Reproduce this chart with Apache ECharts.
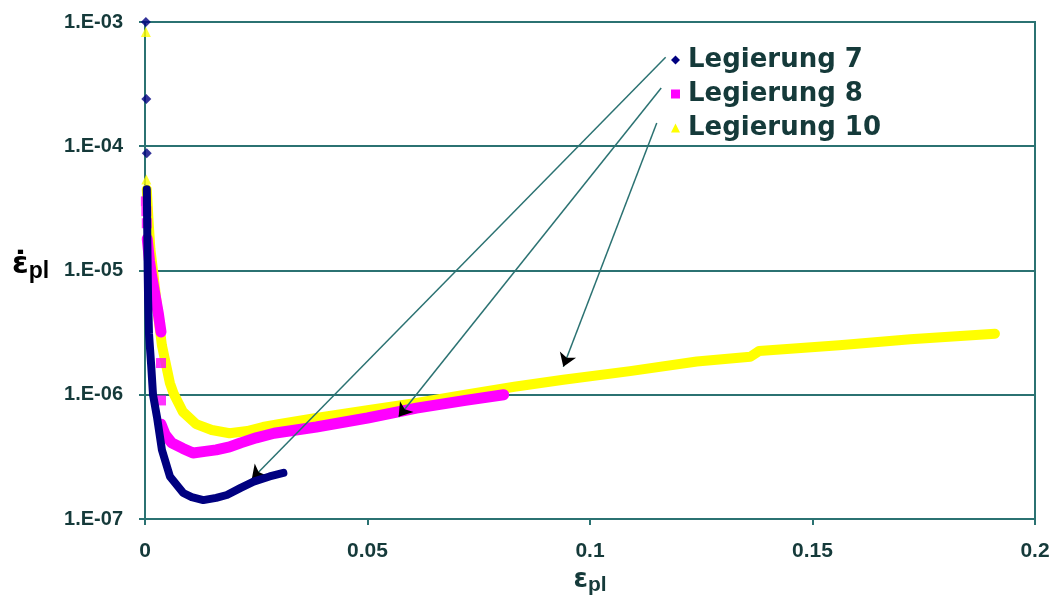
<!DOCTYPE html>
<html>
<head>
<meta charset="utf-8">
<title>Kriechrate über plastischer Dehnung</title>
<script src="https://cdn.jsdelivr.net/npm/echarts@6/dist/echarts.min.js"></script>
<style>
  html, body { margin: 0; padding: 0; background: #ffffff; }
  #chart { width: 1054px; height: 601px; }
</style>
</head>
<body>
<div id="chart"></div>
<script>
// Plastic strain (x) versus plastic strain rate (y, log scale) for three alloys.
const seriesNames = ['Legierung 7', 'Legierung 8', 'Legierung 10'];
const seriesColors = ['#000080', '#ff00ff', '#ffff00'];
const seriesIcons = ['diamond', 'rect', 'triangle'];

// Isolated first readings at the start of each test
const startL7 = [[0.0002, 1.0e-3], [0.0003, 2.4e-4], [0.0004, 8.8e-5]];
const startL8 = [[0.0002, 3.6e-5], [0.0003, 3.0e-5], [0.0004, 2.4e-5], [0.0036, 1.8e-6], [0.0036, 9.0e-7]];
const startL10 = [[0.0002, 8.3e-4], [0.0003, 5.4e-5]];

// Dense measured curves
const curveL7 = [
  [0.0004, 4.5e-5], [0.0005, 2.2e-5], [0.0006, 1.0e-5], [0.0007, 5.8e-6],
  [0.0009, 3.1e-6], [0.0014, 1.7e-6], [0.0018, 1.0e-6], [0.0027, 6.6e-7],
  [0.0038, 3.6e-7], [0.0056, 2.2e-7], [0.0086, 1.62e-7], [0.0105, 1.5e-7],
  [0.0131, 1.42e-7], [0.0160, 1.48e-7], [0.0184, 1.56e-7], [0.0215, 1.78e-7],
  [0.0244, 2.0e-7], [0.0280, 2.2e-7], [0.0311, 2.35e-7]
];
// the magenta trace has a gap (null) where only single readings exist
const curveL8 = [
  [0.0005, 1.8e-5], [0.0010, 1.2e-5], [0.0015, 9.0e-6], [0.0022, 6.5e-6],
  [0.0030, 4.5e-6], [0.0036, 3.2e-6], [null, null], [0.0036, 5.8e-7], [0.0045, 4.8e-7],
  [0.0060, 4.1e-7], [0.0085, 3.7e-7], [0.0108, 3.4e-7], [0.0135, 3.5e-7],
  [0.0160, 3.6e-7], [0.0190, 3.8e-7], [0.0215, 4.1e-7], [0.0250, 4.5e-7],
  [0.0290, 4.9e-7], [0.0385, 5.5e-7], [0.0500, 6.5e-7], [0.0610, 7.8e-7],
  [0.0720, 9.0e-7], [0.0806, 1.0e-6]
];
const curveL10 = [
  [0.0004, 4.5e-5], [0.0008, 2.5e-5], [0.0012, 1.5e-5], [0.0018, 1.0e-5],
  [0.0025, 6.0e-6], [0.0030, 4.2e-6], [0.0038, 2.5e-6], [0.0056, 1.24e-6],
  [0.0064, 1.03e-6], [0.0085, 7.3e-7], [0.0115, 5.8e-7], [0.0150, 5.2e-7],
  [0.0190, 4.9e-7], [0.0230, 5.1e-7], [0.0265, 5.5e-7], [0.0300, 5.8e-7],
  [0.0385, 6.5e-7], [0.0500, 7.5e-7], [0.0610, 8.6e-7], [0.0720, 1.0e-6],
  [0.0830, 1.16e-6], [0.0940, 1.32e-6], [0.1090, 1.55e-6], [0.1240, 1.85e-6],
  [0.1360, 2.02e-6], [0.1380, 2.25e-6], [0.1560, 2.5e-6], [0.1720, 2.8e-6],
  [0.1910, 3.1e-6]
];

// Pointer arrows from the legend entries to their curves: [from, to]
const pointerL7 = [[0.117, 5.2e-4], [0.024, 2.1e-7]];
const pointerL8 = [[0.116, 2.94e-4], [0.057, 6.65e-7]];
const pointerL10 = [[0.115, 1.54e-4], [0.094, 1.68e-6]];

// Axis ranges
const xMin = 0, xMax = 0.2, xStep = 0.05;
const yMin = 1e-7, yMax = 1e-3;

const lineCol = '#2b7272';
const textCol = '#153a3a';

function yLabel(v) {
  const e = Math.round(Math.log10(v));
  const a = Math.abs(e);
  return '1.E' + (e < 0 ? '-' : '+') + (a < 10 ? '0' + a : '' + a);
}

const chart = echarts.init(document.getElementById('chart'), null, { renderer: 'canvas' });

const curves = [curveL7, curveL8, curveL10];
const starts = [startL7, startL8, startL10];
const widths = [8, 11, 10];
const series = [];
// draw order: yellow, magenta, navy on top
[2, 1, 0].forEach(function (i) {
  series.push({
    name: seriesNames[i],
    type: 'line',
    data: curves[i],
    showSymbol: false,
    connectNulls: false,
    symbol: seriesIcons[i],
    lineStyle: { color: seriesColors[i], width: widths[i], join: 'round', cap: 'round' },
    itemStyle: { color: seriesColors[i] },
    silent: true,
    z: 3 + (2 - i)
  });
  series.push({
    name: seriesNames[i],
    type: 'scatter',
    data: starts[i],
    symbol: seriesIcons[i],
    symbolSize: 10,
    itemStyle: { color: seriesColors[i] },
    silent: true,
    z: 3 + (2 - i)
  });
});

const pointerPairs = [pointerL7, pointerL8, pointerL10].map(function (p) {
  return [{ coord: p[0] }, { coord: p[1] }];
});

// pointer shafts (teal)
series.push({
  name: 'pointer shafts',
  type: 'line',
  data: [],
  silent: true,
  z: 10,
  markLine: {
    silent: true,
    symbol: ['none', 'none'],
    label: { show: false },
    lineStyle: { color: lineCol, width: 1.5, type: 'solid' },
    emphasis: { disabled: true },
    data: pointerPairs
  }
});
// pointer heads (black)
series.push({
  name: 'pointer heads',
  type: 'line',
  data: [],
  silent: true,
  z: 11,
  markLine: {
    silent: true,
    symbol: ['none', 'arrow'],
    symbolSize: 13,
    label: { show: false },
    lineStyle: { color: '#000000', width: 0, opacity: 1, type: 'solid' },
    emphasis: { disabled: true },
    data: pointerPairs
  }
});

chart.setOption({
  animation: false,
  backgroundColor: '#ffffff',
  grid: {
    left: 145, right: 19, top: 22, bottom: 82,
    show: true, borderColor: lineCol, borderWidth: 2, backgroundColor: 'transparent'
  },
  legend: {
    orient: 'vertical',
    left: 666,
    top: 42,
    itemWidth: 9,
    itemHeight: 9,
    itemGap: 8,
    selectedMode: false,
    data: seriesNames.map(function (n, i) {
      return { name: n, icon: seriesIcons[i], itemStyle: { color: seriesColors[i] } };
    }),
    textStyle: {
      fontFamily: 'DejaVu Sans',
      fontWeight: 'bold',
      fontSize: 26,
      lineHeight: 26,
      color: textCol,
      padding: [0, 0, 0, 3]
    }
  },
  xAxis: {
    type: 'value',
    min: xMin, max: xMax, interval: xStep,
    name: '{e|ε}{s|pl}',
    nameLocation: 'middle',
    nameGap: 44,
    nameTextStyle: {
      rich: {
        e: { fontFamily: 'DejaVu Sans', fontWeight: 'bold', fontSize: 26, color: textCol },
        s: { fontFamily: 'Liberation Sans', fontWeight: 'bold', fontSize: 21, color: textCol, padding: [10, 0, 0, 0] }
      }
    },
    axisLine: { show: true, lineStyle: { color: lineCol, width: 2 } },
    axisTick: { show: true, inside: false, length: 6, lineStyle: { color: lineCol, width: 2 } },
    splitLine: { show: false },
    axisLabel: {
      margin: 22,
      fontFamily: 'Liberation Sans', fontWeight: 'bold', fontSize: 21, color: textCol,
      formatter: function (v) { return String(Math.round(v * 100) / 100); }
    }
  },
  yAxis: {
    type: 'log',
    logBase: 10,
    min: yMin, max: yMax,
    axisLine: { show: true, lineStyle: { color: lineCol, width: 2 } },
    axisTick: { show: true, inside: false, length: 6, lineStyle: { color: lineCol, width: 2 } },
    minorTick: { show: false },
    splitLine: { show: true, lineStyle: { color: lineCol, width: 2 } },
    axisLabel: {
      margin: 22,
      fontFamily: 'Liberation Sans', fontWeight: 'bold', fontSize: 20, color: textCol,
      formatter: yLabel
    }
  },
  graphic: [
    {
      type: 'text',
      left: 12, top: 250,
      silent: true,
      style: {
        text: '{e|ε\u0307}{s|pl}',
        rich: {
          e: { fontFamily: 'DejaVu Sans', fontWeight: 'bold', fontSize: 30, color: textCol },
          s: { fontFamily: 'Liberation Sans', fontWeight: 'bold', fontSize: 23, color: textCol, padding: [14, 0, 0, 0] }
        }
      }
    }
  ],
  series: series
});
</script>
</body>
</html>
